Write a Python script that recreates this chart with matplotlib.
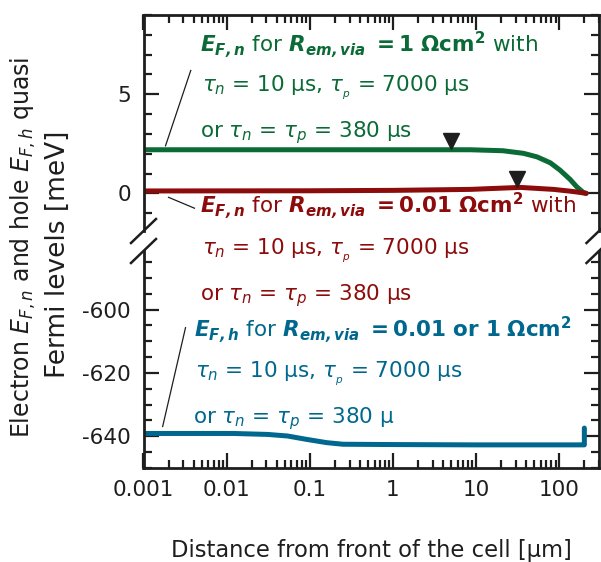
import numpy as np
import matplotlib
matplotlib.use('Agg')
import matplotlib.pyplot as plt
from matplotlib.lines import Line2D
from matplotlib.ticker import FixedLocator, MultipleLocator, NullFormatter

plt.rcParams['font.family'] = ['DejaVu Sans']
plt.rcParams['axes.unicode_minus'] = False
plt.rcParams['mathtext.fontset'] = 'custom'
plt.rcParams['mathtext.rm'] = 'DejaVu Sans'
plt.rcParams['mathtext.it'] = 'DejaVu Sans:italic'
plt.rcParams['mathtext.bf'] = 'DejaVu Sans:bold'
plt.rcParams['mathtext.bfit'] = 'DejaVu Sans:bold:italic'

# data
green_x = [0.001, 1, 8.5, 21, 37, 54, 78, 102, 135, 162, 195, 210]
green_y = [2.2, 2.2, 2.2, 2.15, 2.02, 1.84, 1.54, 1.17, 0.7, 0.33, 0.04, 0.0]

red_x = [0.001, 0.1, 1, 8.5, 34, 85, 135, 175, 210]
red_y = [0.12, 0.13, 0.15, 0.2, 0.3, 0.2, 0.11, 0.05, 0.0]

blue_x = [0.001, 0.012, 0.031, 0.054, 0.093, 0.16, 0.25, 1, 10, 100, 195, 200, 200]
blue_y = [-639.1, -639.1, -639.4, -639.9, -641.0, -642.0, -642.5, -642.6, -642.7,
          -642.7, -642.7, -642.7, -637.4]

tri_x = [5, 31]
tri_y = [2.65, 0.72]

green = '#0b6b36'
red = '#8c0c0c'
blue = '#00688e'
ink = '#1e1e1e'

W, H = 601, 562
fig = plt.figure(figsize=(W / 100, H / 100), dpi=100)


def fx(x):
    return x / W


def fy(y):
    return 1 - y / H


left, right = 143.5, 599
ax_top = fig.add_axes([fx(left), fy(231), fx(right - left), (231 - 15) / H])
ax_bot = fig.add_axes([fx(left), fy(468), fx(right - left), (468 - 251) / H])

for ax in (ax_top, ax_bot):
    ax.set_xscale('log')
    ax.set_xlim(0.001, 300)
    for s in ax.spines.values():
        s.set_linewidth(2)
        s.set_color(ink)
    ax.tick_params(which='both', direction='in', width=1.6, color=ink,
                   labelsize=15.5, labelcolor=ink, right=True, pad=9)
    ax.tick_params(which='major', length=11)
    ax.tick_params(which='minor', length=6)

ax_top.spines['bottom'].set_visible(False)
ax_top.tick_params(axis='x', which='both', top=True, bottom=False, labelbottom=False)
ax_bot.spines['top'].set_visible(False)
ax_bot.tick_params(axis='x', which='both', top=False, bottom=True)

ax_top.set_ylim(-1.9, 9)
ax_top.yaxis.set_major_locator(FixedLocator([0, 5]))
ax_top.yaxis.set_minor_locator(MultipleLocator(1))
ax_bot.set_ylim(-650, -581.5)
ax_bot.yaxis.set_major_locator(FixedLocator([-640, -620, -600]))
ax_bot.yaxis.set_minor_locator(MultipleLocator(5))

ax_bot.set_xticks([0.001, 0.01, 0.1, 1, 10, 100])
ax_bot.set_xticklabels(['0.001', '0.01', '0.1', '1', '10', '100'])
ax_bot.xaxis.set_minor_formatter(NullFormatter())

ax_top.plot(green_x, green_y, color=green, lw=3.6, solid_capstyle='round')
ax_top.plot(red_x, red_y, color=red, lw=3.6, solid_capstyle='round')
ax_top.plot(tri_x, tri_y, 'v', color=ink, ms=12, ls='none')
ax_bot.plot(blue_x, blue_y, color=blue, lw=3.6, solid_capstyle='round')

# leader lines
ax_top.plot([0.0037, 0.00184], [6.2, 2.4], color=ink, lw=0.9)
ax_top.plot([0.002, 0.0041], [-0.2, -0.75], color=ink, lw=0.9)
ax_bot.plot([0.0032, 0.0017], [-605.7, -636.9], color=ink, lw=0.9)

# axis break marks
for bx in (left, right):
    for by in (231, 251):
        fig.add_artist(Line2D([fx(bx - 12.5), fx(bx + 12.5)], [fy(by + 12), fy(by - 12)],
                              color=ink, lw=1.8))

fs = 15.5
head_g = r'$\mathbfit{E}_{\mathbfit{F,n}}$ for $\mathbfit{R}_{\mathbfit{em,via}}$ $\mathbf{= 1\ \Omega cm^2}$ with'
head_r = r'$\mathbfit{E}_{\mathbfit{F,n}}$ for $\mathbfit{R}_{\mathbfit{em,via}}$ $\mathbf{= 0.01\ \Omega cm^2}$ with'
head_b = r'$\mathbfit{E}_{\mathbfit{F,h}}$ for $\mathbfit{R}_{\mathbfit{em,via}}$ $\mathbf{= 0.01\ or\ 1\ \Omega cm^2}$'
tau_line = r'$\tau_n$ = 10 µs, $\tau_{_p}$ = 7000 µs'
or_line = r'or $\tau_n$ = $\tau_p$ = 380 µs'
or_line_b = r'or $\tau_n$ = $\tau_p$ = 380 µ'

blocks = [
    (green, [(200, 52, head_g), (202, 92, tau_line), (200, 137, or_line)]),
    (red, [(200, 213, head_r), (202, 255, tau_line), (200, 300, or_line)]),
    (blue, [(194, 337, head_b), (195, 378, tau_line), (193, 423, or_line_b)]),
]
for col, lines in blocks:
    for x, y, s in lines:
        fig.text(fx(x), fy(y), s, color=col, fontsize=fs, ha='left', va='baseline')

fig.text(fx(23), fy(247), r'Electron $E_{F,n}$ and hole $E_{F,h}$ quasi', rotation=90,
         ha='center', va='center', fontsize=17, color=ink)
fig.text(fx(58), fy(254), 'Fermi levels [meV]', rotation=90,
         ha='center', va='center', fontsize=19, color=ink)
fig.text(fx(371), fy(550), 'Distance from front of the cell [µm]',
         ha='center', va='center', fontsize=16.3, color=ink)

fig.savefig('out.png', dpi=100)
